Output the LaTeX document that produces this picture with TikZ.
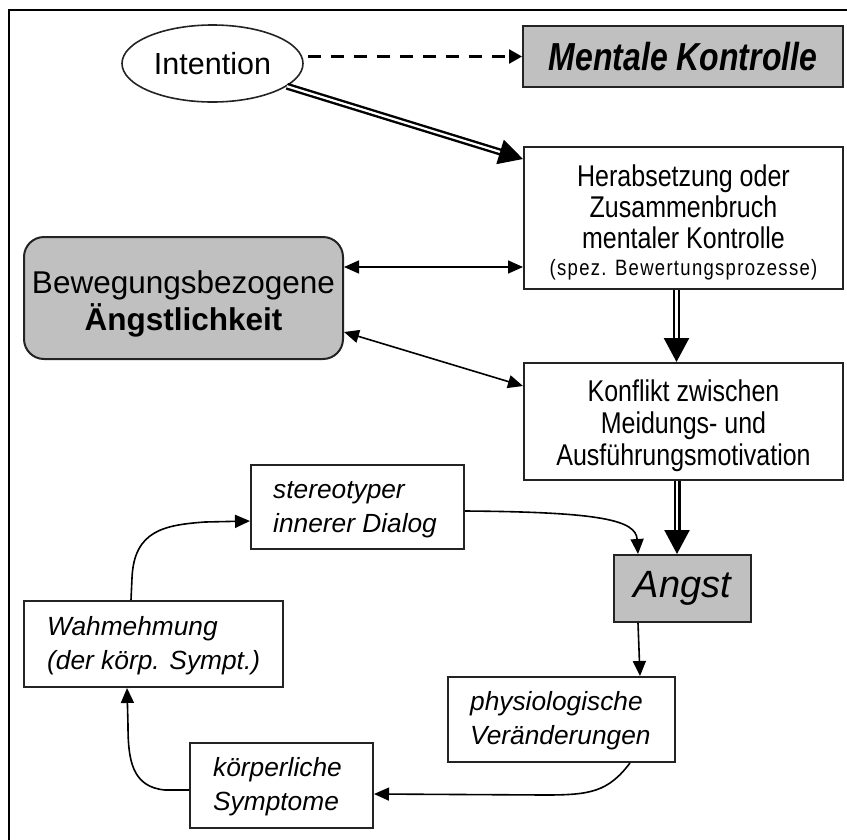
\documentclass[tikz,border=0pt]{standalone}
\usepackage{fontspec}
\usepackage{graphicx}
\setmainfont{Liberation Sans}
\usetikzlibrary{arrows.meta,shapes.geometric,calc}
\definecolor{boxgray}{RGB}{192,192,192}
\definecolor{edgecol}{RGB}{35,35,35}
\newcommand\itfnt{\fontsize{26.3}{34}\selectfont\itshape}
\newcommand\tallstack[3]{\scalebox{1}[#1]{#2\begin{tabular}{@{}c@{}}#3\end{tabular}}}
\tikzset{
  box/.style={draw=edgecol, line width=2pt, rectangle, inner sep=0pt, align=center},
  graybox/.style={box, fill=boxgray},
  ctext/.style={inner sep=0pt, align=center},
  itext/.style={anchor=west, align=left, inner sep=0pt, font=\itfnt},
  arr/.style={line width=1.6pt, -{Triangle[length=15pt,width=13pt]}},
  darr/.style={line width=1.6pt, {Triangle[length=15pt,width=13pt]}-{Triangle[length=15pt,width=13pt]}},
  dbl/.style={double, double distance=2.2pt, line width=2.4pt, -{Triangle[length=24pt,width=25pt]}},
  dsh/.style={line width=2.6pt, dash pattern=on 13pt off 10pt, -{Triangle[length=13pt,width=14pt]}},
}
\begin{document}
\begin{tikzpicture}[x=1pt,y=-1pt]
\useasboundingbox (0,0) rectangle (847,839);
\draw[line width=2pt] (9,845) -- (9,10) -- (850,10);

% upper part
\node[ellipse, draw=edgecol, line width=1.6pt, minimum width=181pt, minimum height=77pt, inner sep=0pt,
      font=\fontsize{30.5}{36}\selectfont] (intention) at (212.5,63.5) {Intention};
\node[graybox, minimum width=320pt, minimum height=61pt] (mentale) at (683,56.5)
  {\scalebox{1}[1.22]{\fontsize{32}{38}\selectfont\bfseries\itshape Mentale Kontrolle}};

\node[box, minimum width=319pt, minimum height=142pt] (herab) at (683.5,218) {};
\node[ctext] (herab-t) at (683.5,225)
  {\tallstack{1.2}{\fontsize{25}{25.8}\selectfont}{Herabsetzung oder\\Zusammenbruch\\mentaler Kontrolle\\[-3.5pt]{\fontsize{18.5}{22}\selectfont\addfontfeature{LetterSpace=7}(spez. Bewertungsprozesse)}}};

\node[graybox, rounded corners=20pt, minimum width=319pt, minimum height=122pt] (bew) at (183.5,298) {};
\node[ctext, font=\fontsize{31.5}{37}\selectfont] (bew-t) at (183.5,304) {Bewegungsbezogene\\\textbf{Ängstlichkeit}};

\node[box, minimum width=319pt, minimum height=117pt] (konflikt) at (683.5,421.5) {};
\node[ctext] (konflikt-t) at (683.5,427)
  {\tallstack{1.2}{\fontsize{25}{26.6}\selectfont}{Konflikt zwischen\\Meidungs- und\\Ausführungsmotivation}};

\node[graybox, minimum width=137pt, minimum height=67pt,
      font=\fontsize{38}{44}\selectfont\itshape] (angst) at (682.5,588.5) {Angst};

% cycle
\node[box, minimum width=213pt, minimum height=84pt] (stereo) at (357.5,507) {};
\node[itext] (stereo-t) at (273,510) {stereotyper\\innerer Dialog};
\node[box, minimum width=259pt, minimum height=86pt] (wahm) at (153.5,644) {};
\node[itext] (wahm-t) at (47,646) {Wahmehmung\\(der körp. Sympt.)};
\node[box, minimum width=183pt, minimum height=85pt] (koerper) at (281.5,785.5) {};
\node[itext] (koerper-t) at (213,787) {körperliche\\Symptome};
\node[box, minimum width=227pt, minimum height=85pt] (physio) at (561.5,719.5) {};
\node[itext] (physio-t) at (470,721) {physiologische\\Veränderungen};

% connectors
\draw[dsh, shorten <=4pt] (intention.east |- mentale.west) -- (mentale.west);
\draw[dbl] (intention.-17) -- ($(herab.north west)+(0,13)$);
\draw[darr] ($(bew.north east)+(0,31)$) -- ($(herab.north west)+(0,121)$);
\draw[darr] ($(bew.north east)+(0,96)$) -- ($(konflikt.north west)+(0,24)$);
\draw[dbl] ($(herab.south)+(-7,0)$) -- ($(konflikt.north)+(-7,0)$);
\draw[dbl] ($(konflikt.south)+(-6.5,0)$) -- ($(angst.north)+(-5.5,0)$);
\draw[arr] ($(stereo.north east)+(0,47)$) .. controls (600,512) and (636,520) .. ($(angst.north west)+(25,0)$);
\draw[arr] ($(angst.south west)+(25,0)$) -- ($(physio.north east)+(-36,0)$);
\draw[arr] ($(physio.south east)+(-46,0)$) .. controls (608,792) and (590,795) .. (545,795) -- ($(koerper.north east)+(0,52)$);
\draw[arr] ($(koerper.north west)+(0,48)$) -- (165,790) .. controls (132,787) and (128,760) .. (128,725) -- ($(wahm.south west)+(104,0)$);
\draw[arr] ($(wahm.north west)+(108,0)$) -- (132,578) .. controls (134,530) and (165,525) .. (205,522) -- ($(stereo.north west)+(0,57)$);
\end{tikzpicture}
\end{document}
